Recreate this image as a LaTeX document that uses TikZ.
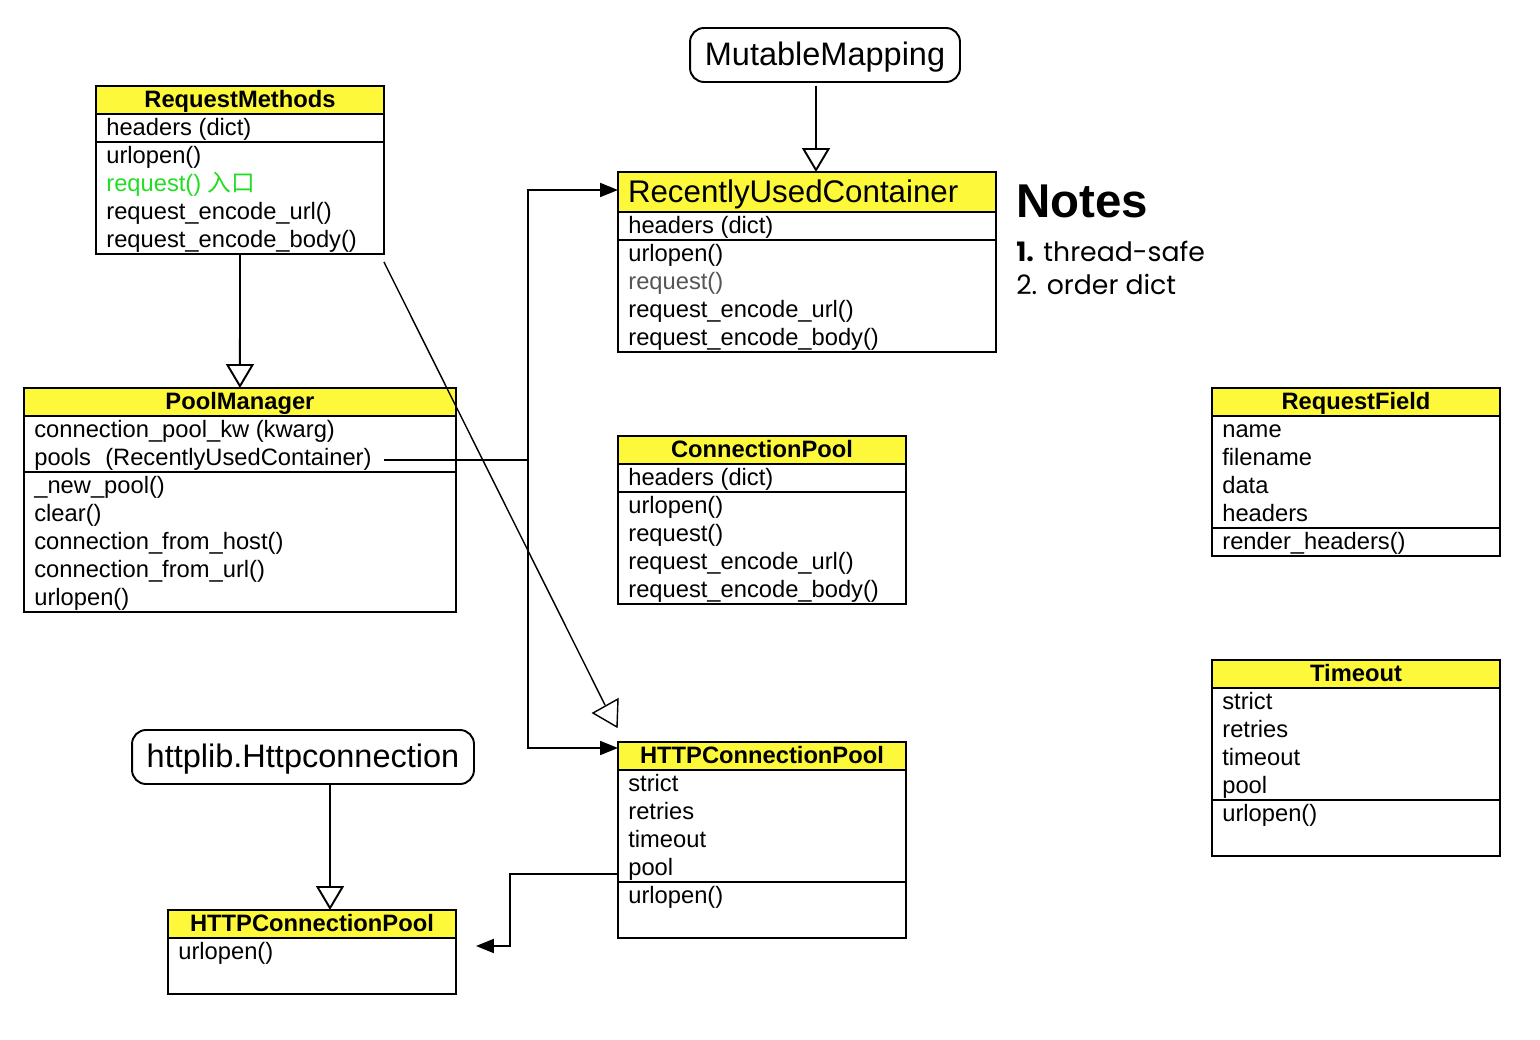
\documentclass[tikz,border=0pt]{standalone}
\usepackage{fontspec}
\setmainfont{Liberation Sans}
\newfontfamily\cjkfont{Noto Sans CJK SC}
\newfontfamily\notefont{Poppins}
\usetikzlibrary{positioning, arrows.meta, calc}
\definecolor{headyellow}{HTML}{FDF93A}
\definecolor{entrygreen}{HTML}{22DD22}
\definecolor{softgray}{HTML}{555555}
\tikzset{
  classbox/.style={draw, line width=1.1pt, anchor=north west, inner sep=0pt, outer sep=0pt},
  classhead/.style={classbox, fill=headyellow, minimum height=0.56cm,
    font=\fontsize{13.5}{16}\selectfont\bfseries, text height=10pt, text depth=2pt},
  member/.style={anchor=west, inner sep=0pt, font=\fontsize{13.5}{16}\selectfont,
    text height=10pt, text depth=2pt},
  basebox/.style={draw, line width=1.1pt, rounded corners=0.28cm, minimum height=1.08cm,
    inner sep=0pt, outer sep=0pt, font=\fontsize{18.5}{22}\selectfont, text height=14pt, text depth=2pt},
  inherit/.style={line width=1.1pt, -{Triangle[open, length=0.48cm, width=0.56cm, fill=white]}},
  assoc/.style={line width=1.1pt, -{Triangle[length=0.36cm, width=0.28cm]}},
}

\begin{document}
\begin{tikzpicture}[x=0.02cm, y=-0.02cm]
  \useasboundingbox (0,0) rectangle (1540,1040);

  % classes: box, then yellow title bar
  \node[classbox, minimum width=5.76cm, minimum height=3.36cm] (rm) at (96,86) {};
  \node[classhead, minimum width=5.76cm] (rm-head) at (96,86) {RequestMethods};
  \node[classbox, minimum width=8.64cm, minimum height=4.48cm] (pm) at (24,388) {};
  \node[classhead, minimum width=8.64cm] (pm-head) at (24,388) {PoolManager};
  \node[classbox, minimum width=7.56cm, minimum height=3.60cm] (ruc) at (618,172) {};
  \node[classhead, minimum width=7.56cm, minimum height=0.8cm, font=\fontsize{17.8}{22}\selectfont,
    text height=15pt, text depth=2.5pt, text width=7.16cm, align=left] (ruc-head) at (618,172)
    {RecentlyUsedContainer};
  \node[classbox, minimum width=5.76cm, minimum height=3.36cm] (cp) at (618,436) {};
  \node[classhead, minimum width=5.76cm] (cp-head) at (618,436) {ConnectionPool};
  \node[classbox, minimum width=5.76cm, minimum height=3.92cm] (hcp) at (618,742) {};
  \node[classhead, minimum width=5.76cm] (hcp-head) at (618,742) {HTTPConnectionPool};
  \node[classbox, minimum width=5.76cm, minimum height=3.36cm] (rf) at (1212,388) {};
  \node[classhead, minimum width=5.76cm] (rf-head) at (1212,388) {RequestField};
  \node[classbox, minimum width=5.76cm, minimum height=3.92cm] (to) at (1212,660) {};
  \node[classhead, minimum width=5.76cm] (to-head) at (1212,660) {Timeout};
  \node[classbox, minimum width=5.76cm, minimum height=1.68cm] (hcpl) at (168,910) {};
  \node[classhead, minimum width=5.76cm] (hcpl-head) at (168,910) {HTTPConnectionPool};

  % separators between fields and methods
  \foreach \xa/\ya/\wd in {96/142/288, 24/472/432, 618/240/378, 618/492/288,
                           618/882/288, 1212/528/288, 1212/800/288}
    \draw[line width=1.1pt] (\xa,\ya) -- ++(\wd,0);

  % members, one row every 28px
  \foreach \rk/\txt in {1/headers (dict), 2/urlopen(),
      3/{\color{entrygreen}request() {\cjkfont 入口}},
      4/request\_encode\_url(), 5/request\_encode\_body()}
    \node[member] (rm-\rk) at (106,100+28*\rk) {\txt};
  \foreach \rk/\txt in {1/connection\_pool\_kw (kwarg),
      2/{pools\hspace{0.6em}(RecentlyUsedContainer)}, 3/\_new\_pool(), 4/clear(),
      5/connection\_from\_host(), 6/connection\_from\_url(), 7/urlopen()}
    \node[member] (pm-\rk) at (34,402+28*\rk) {\txt};
  \foreach \rk/\txt in {1/headers (dict), 2/urlopen(), 3/{\color{softgray}request()},
      4/request\_encode\_url(), 5/request\_encode\_body()}
    \node[member] (ruc-\rk) at (628,198+28*\rk) {\txt};
  \foreach \rk/\txt in {1/headers (dict), 2/urlopen(), 3/request(),
      4/request\_encode\_url(), 5/request\_encode\_body()}
    \node[member] (cp-\rk) at (628,450+28*\rk) {\txt};
  \foreach \rk/\txt in {1/strict, 2/retries, 3/timeout, 4/pool, 5/urlopen()}
    \node[member] (hcp-\rk) at (628,756+28*\rk) {\txt};
  \foreach \rk/\txt in {1/name, 2/filename, 3/data, 4/headers, 5/render\_headers()}
    \node[member] (rf-\rk) at (1222,402+28*\rk) {\txt};
  \foreach \rk/\txt in {1/strict, 2/retries, 3/timeout, 4/pool, 5/urlopen()}
    \node[member] (to-\rk) at (1222,674+28*\rk) {\txt};
  \node[member] (hcpl-1) at (178,952) {urlopen()};

  % base classes outside urllib3
  \node[basebox, minimum width=5.4cm] (mm) at (825,55) {MutableMapping};
  \node[basebox, minimum width=6.84cm] (hl) at (303,757) {httplib.Httpconnection};

  % notes
  \node[anchor=base west, inner sep=0pt, font=\fontsize{27}{30}\selectfont\bfseries]
    (notes) at (1016,218) {Notes};
  \node[anchor=base west, inner sep=0pt, font=\notefont\fontsize{15.2}{19}\selectfont]
    (note-1) at (1016,262) {\textbf{1.} thread-safe};
  \node[anchor=base west, inner sep=0pt, font=\notefont\fontsize{15.2}{19}\selectfont]
    (note-2) at (1016,295) {2. order dict};

  % inheritance
  \draw[inherit] ($(mm.south)+(-9,4)$) coordinate (mm-foot) -- (mm-foot |- ruc.north);
  \draw[inherit] (rm.south) -- (pm.north);
  \draw[inherit] ($(hl.south)+(27,0)$) coordinate (hl-foot) -- (hl-foot |- hcpl.north);
  \coordinate (tri) at (605,705);
  \draw[line width=0.8pt] ($(rm.south east)+(0,8)$) -- (tri);
  \draw[line width=0.8pt, fill=white] (tri) +(-12,8) -- +(13,-6) -- +(12,22) -- cycle;

  % pools -> containers
  \coordinate (bus) at (528,460);
  \draw[line width=1.1pt] ($(pm-2.east)+(12,2)$) -- (bus);
  \draw[assoc] (bus) |- ($(ruc.north west)+(0,18)$);
  \draw[assoc] (bus) |- ($(hcp.north west)+(0,6)$);
  \draw[assoc] ($(hcp.north west)+(0,132)$) -- ++(-108,0) |- ($(hcpl.east)+(20,-6)$);
\end{tikzpicture}
\end{document}
